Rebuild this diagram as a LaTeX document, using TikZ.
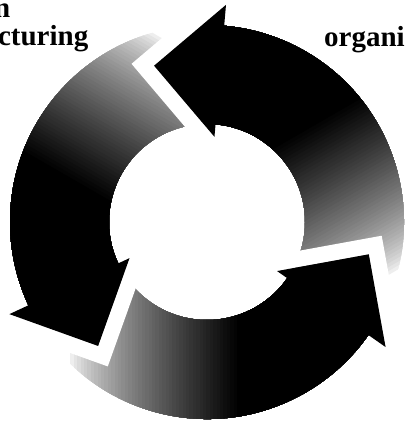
\documentclass[tikz,border=0pt]{standalone}
\usepackage{fontspec}
\setmainfont{Liberation Serif}
\usetikzlibrary{calc}
\tikzset{
  lbl/.style={inner sep=0pt, font=\bfseries\fontsize{29}{29}\selectfont},
  gapfill/.style={fill=white},
  headfill/.style={fill=black}
}
% body of one arrow: annular sector ending at its head base, shaded
\newcommand\ringbody[1]{%
  \begin{scope}
    \clip (#1-118:197) arc[start angle=#1-118, end angle=#1+2, radius=197]
      -- (#1+2:98) arc[start angle=#1+2, end angle=#1-118, radius=98] -- cycle;
    \begin{scope}[rotate=#1+35]
      \foreach \i in {0,...,50}{%
        \pgfmathsetmacro\pct{100*(\i/50)^0.7}%
        \fill[black!\pct] ({-140+3.4*\i},-300) rectangle (300,300);}
    \end{scope}
  \end{scope}}
% head of one arrow with the white gap in front of it
\newcommand\ringhead[1]{%
  \coordinate (hI) at (#1:85.5);
  \coordinate (hO) at (#1:218);
  \coordinate (hT) at (#1+23.7:165);
  \coordinate (hIa) at ($(hI)!16pt!90:(hT)$);
  \coordinate (hTa) at ($(hT)!16pt!-90:(hI)$);
  \coordinate (hOa) at ($(hO)!16pt!-90:(hT)$);
  \coordinate (hTb) at ($(hT)!16pt!90:(hO)$);
  \coordinate (hTc) at (intersection of hIa--hTa and hOa--hTb);
  \path[gapfill] (hIa) -- (hTc) -- (hOa) -- (hO) -- (hT) -- (hI) -- cycle;
  \path[headfill] (hI) -- (hT) -- (hO) -- cycle;}
\begin{document}
\begin{tikzpicture}[x=1pt,y=1pt]
  \useasboundingbox (-207,-200) rectangle (200,222);
  \ringbody{85}
  \ringbody{-35}
  \ringbody{205}
  \ringhead{85}
  \ringhead{-35}
  \ringhead{205}
  \node[lbl, anchor=base east] (t1) at (-196.5,204) {n};
  \node[lbl, anchor=base east] (t2) at (-118.5,176) {cturing};
  \node[lbl, anchor=base west] (t3) at (117,175) {organi};
\end{tikzpicture}
\end{document}
